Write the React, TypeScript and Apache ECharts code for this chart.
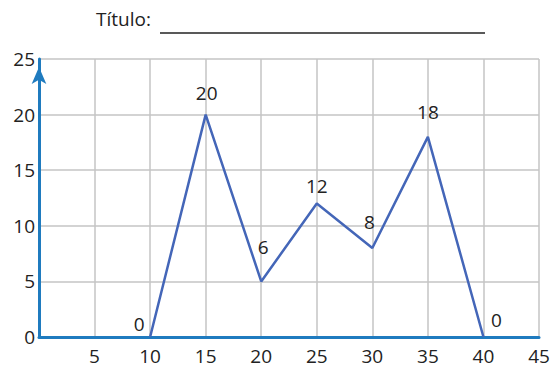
import React, { useEffect, useRef } from "react";
import * as echarts from "echarts";

const xValues = [10, 15, 20, 25, 30, 35, 40];
const yValues = [0, 20, 5, 12, 8, 18, 0];
const pointLabels = ["0", "20", "6", "12", "8", "18", "0"];
const titleText = "Título:";

// label offsets (style only)
const labelOffsets: [number, number][] = [
  [-11, 2],
  [1, -7],
  [2, -20],
  [0, -3],
  [-3, -11],
  [0, -10],
  [13, -2],
];

const FONT = "'Open Sans', 'Noto Sans', sans-serif";

export default function App() {
  const ref = useRef<HTMLDivElement>(null);
  useEffect(() => {
    if (!ref.current) return;
    const chart = echarts.init(ref.current, undefined, { renderer: "svg" });
    const data = xValues.map((x, i) => ({
      value: [x, yValues[i]],
      label: {
        show: true,
        position: "top" as const,
        offset: labelOffsets[i],
        formatter: pointLabels[i],
      },
    }));
    chart.setOption({
      animation: false,
      backgroundColor: "#ffffff",
      grid: { left: 39, right: 14, top: 59, bottom: 30, containLabel: false },
      xAxis: {
        type: "value",
        min: 0,
        max: 45,
        interval: 5,
        axisLine: { show: true, onZero: false, lineStyle: { color: "#1f7bbf", width: 3 } },
        axisTick: { show: false },
        axisLabel: {
          color: "#222",
          fontSize: 19,
          fontFamily: FONT,
          margin: 9,
          formatter: (v: number) => (v === 0 ? "" : String(v)),
        },
        splitLine: { show: true, lineStyle: { color: "#c4c4c4", width: 1.5 } },
      },
      yAxis: {
        type: "value",
        min: 0,
        max: 25,
        interval: 5,
        axisLine: {
          show: true,
          onZero: false,
          lineStyle: { color: "#1f7bbf", width: 3 },
          symbol: ["none", "arrow"],
          symbolSize: [11, 17],
          symbolOffset: [0, -8],
        },
        axisTick: { show: false },
        axisLabel: {
          color: "#222",
          fontSize: 19,
          fontFamily: FONT,
          margin: 4,
          verticalAlign: "middle",
          padding: [4, 0, 0, 0],
        },
        splitLine: { show: true, lineStyle: { color: "#c4c4c4", width: 1.5 } },
      },
      graphic: [
        {
          type: "text",
          left: 96,
          top: 9,
          style: { text: titleText, fontSize: 19, fontFamily: FONT, fill: "#222" },
        },
        {
          type: "line",
          shape: { x1: 160, y1: 33, x2: 485, y2: 33 },
          style: { stroke: "#222", lineWidth: 1.5 },
        },
      ],
      series: [
        {
          type: "line",
          data,
          symbol: "circle",
          symbolSize: 0.1,
          showSymbol: true,
          itemStyle: { color: "#4466b8" },
          lineStyle: { color: "#4466b8", width: 2.5 },
          label: { color: "#222", fontSize: 19, fontFamily: FONT },
        },
      ],
    });
    return () => chart.dispose();
  }, []);
  return <div ref={ref} style={{ width: 553, height: 367, position: "absolute", left: 0, top: 0 }} />;
}
